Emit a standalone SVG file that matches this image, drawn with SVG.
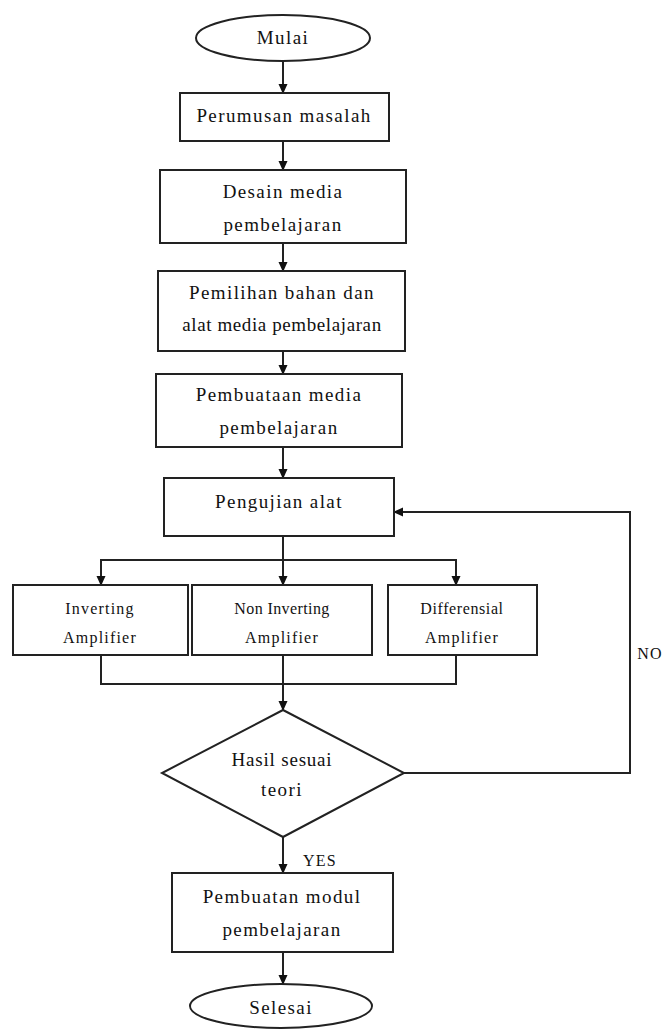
<svg xmlns="http://www.w3.org/2000/svg" width="662" height="1030" viewBox="0 0 662 1030">
<style>
.shape{fill:#fff;stroke:#222;stroke-width:2}
.t{font-family:"Liberation Serif","Times New Roman",serif;font-size:19px;letter-spacing:1.4px;fill:#111;text-anchor:middle}
.s{font-family:"Liberation Serif","Times New Roman",serif;font-size:16px;letter-spacing:1.2px;fill:#111;text-anchor:middle}
.c{fill:none;stroke:#222;stroke-width:2}
</style>
<defs>
<marker id="ah" markerWidth="10" markerHeight="10" refX="9" refY="5" orient="auto" markerUnits="userSpaceOnUse">
<path d="M0,0.5 L10,5 L0,9.5 Z" fill="#111"/>
</marker>
</defs>
<rect width="662" height="1030" fill="#fff"/>
<g id="connectors">
<line class="c" x1="283" y1="61" x2="283" y2="93" marker-end="url(#ah)"/>
<line class="c" x1="283" y1="141" x2="283" y2="170" marker-end="url(#ah)"/>
<line class="c" x1="283" y1="243" x2="283" y2="271" marker-end="url(#ah)"/>
<line class="c" x1="283" y1="351" x2="283" y2="374" marker-end="url(#ah)"/>
<line class="c" x1="283" y1="447" x2="283" y2="478" marker-end="url(#ah)"/>
<line class="c" x1="283" y1="536" x2="283" y2="585" marker-end="url(#ah)"/>
<polyline class="c" points="101,560 456,560 456,585" marker-end="url(#ah)"/>
<line class="c" x1="101" y1="559" x2="101" y2="585" marker-end="url(#ah)"/>
<polyline class="c" points="101,655 101,684 456,684 456,655"/>
<line class="c" x1="283" y1="655" x2="283" y2="710" marker-end="url(#ah)"/>
<line class="c" x1="283" y1="837" x2="283" y2="873" marker-end="url(#ah)"/>
<line class="c" x1="283" y1="952" x2="283" y2="984" marker-end="url(#ah)"/>
<polyline class="c" points="404,773 630,773 630,512 394,512" marker-end="url(#ah)"/>
<text class="s" x="320" y="866">YES</text>
<text class="s" x="650" y="659">NO</text>
</g>
<g id="mulai">
<ellipse class="shape" cx="283" cy="38" rx="87" ry="23"/>
<text class="t" x="283" y="44">Mulai</text>
</g>
<g id="perumusan">
<rect class="shape" x="180" y="93" width="209" height="48"/>
<text class="t" x="284" y="122">Perumusan masalah</text>
</g>
<g id="desain">
<rect class="shape" x="160" y="170" width="246" height="73"/>
<text class="t" x="283" y="198">Desain media</text>
<text class="t" x="283" y="231">pembelajaran</text>
</g>
<g id="pemilihan">
<rect class="shape" x="158" y="271" width="247" height="80"/>
<text class="t" x="282" y="299">Pemilihan bahan dan</text>
<text class="t" x="282" y="331" style="letter-spacing:0.6px">alat media pembelajaran</text>
</g>
<g id="pembuatan-media">
<rect class="shape" x="156" y="374" width="246" height="73"/>
<text class="t" x="279" y="401">Pembuataan media</text>
<text class="t" x="279" y="434">pembelajaran</text>
</g>
<g id="pengujian">
<rect class="shape" x="164" y="478" width="230" height="58"/>
<text class="t" x="279" y="508">Pengujian alat</text>
</g>
<g id="inverting">
<rect class="shape" x="13" y="585" width="175" height="70"/>
<text class="s" x="100" y="614">Inverting</text>
<text class="s" x="100" y="643">Amplifier</text>
</g>
<g id="non-inverting">
<rect class="shape" x="192" y="585" width="180" height="70"/>
<text class="s" x="282" y="614" style="letter-spacing:0.4px">Non Inverting</text>
<text class="s" x="282" y="643">Amplifier</text>
</g>
<g id="differensial">
<rect class="shape" x="388" y="585" width="149" height="70"/>
<text class="s" x="462" y="614" style="letter-spacing:0.6px">Differensial</text>
<text class="s" x="462" y="643">Amplifier</text>
</g>
<g id="hasil">
<polygon class="shape" points="283,710 404,773 283,837 162,773"/>
<text class="t" x="282" y="766" style="letter-spacing:0.8px">Hasil sesuai</text>
<text class="t" x="282" y="796">teori</text>
</g>
<g id="modul">
<rect class="shape" x="172" y="873" width="221" height="79"/>
<text class="t" x="282" y="903">Pembuatan modul</text>
<text class="t" x="282" y="936">pembelajaran</text>
</g>
<g id="selesai">
<ellipse class="shape" cx="281" cy="1006" rx="91" ry="22"/>
<text class="t" x="281" y="1014">Selesai</text>
</g>
</svg>
